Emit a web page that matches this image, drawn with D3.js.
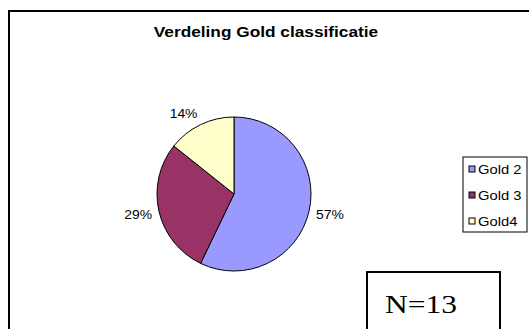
<!DOCTYPE html>
<html>
<head>
<meta charset="utf-8">
<script src="https://cdn.jsdelivr.net/npm/d3@7"></script>
<style>
  html, body { margin: 0; padding: 0; background: #fff; }
  svg { display: block; }
</style>
</head>
<body>
<div id="chart"></div>
<script>
// data
var categories = ["Gold 2", "Gold 3", "Gold4"];
var counts = [4, 2, 1];
var pctLabels = ["57%", "29%", "14%"];
var colours = ["#9999FF", "#993366", "#FFFFCC"];
var chartTitle = "Verdeling Gold classificatie";
var noteText = "N=13";

var iWidth = 529, iHeight = 329;
var sans = "'Liberation Sans', Arial, sans-serif";

var dSVG = d3.select("#chart")
    .append("svg")
    .attr("width", iWidth)
    .attr("height", iHeight);

// outer chart frame (runs off the right and bottom edge)
dSVG.append("rect")
    .attr("x", 9).attr("y", 11)
    .attr("width", 600).attr("height", 400)
    .attr("fill", "#fff")
    .attr("stroke", "#000")
    .attr("stroke-width", 2);

// the original text comes out a bit wider than Liberation Sans does
function widen(f) {
    return function(sel) {
        sel.each(function() {
            var w = this.getComputedTextLength();
            d3.select(this)
                .attr("textLength", w * f)
                .attr("lengthAdjust", "spacingAndGlyphs");
        });
    };
}

dSVG.append("text")
    .attr("x", 266).attr("y", 37)
    .attr("text-anchor", "middle")
    .style("font-family", sans)
    .style("font-weight", "bold")
    .style("font-size", "14.5px")
    .text(chartTitle)
    .call(widen(1.19));

var cx = 234, cy = 194, r = 77;

var pie = d3.pie().sort(null).value(function(d) { return d; });
var arcs = pie(counts);
var arc = d3.arc().innerRadius(0).outerRadius(r);

var colour = d3.scaleOrdinal().domain(categories).range(colours);

var dG = dSVG.append("g").attr("transform", "translate(" + cx + "," + cy + ")");

dG.selectAll("path").data(arcs).enter().append("path")
    .attr("d", arc)
    .style("fill", function(d, i) { return colour(categories[i]); })
    .style("stroke", "#000")
    .style("stroke-width", 1);

// outside data labels
var labelR = r + 7;
dG.selectAll("text.lbl").data(arcs).enter().append("text")
    .attr("class", "lbl")
    .attr("x", function(d) {
        var a = (d.startAngle + d.endAngle) / 2;
        var s = Math.sin(a);
        return labelR * s + (s > 0 ? 1 : -1) * 14;
    })
    .attr("y", function(d) {
        var a = (d.startAngle + d.endAngle) / 2;
        var c = -Math.cos(a);
        return labelR * c + 6 * c + 5;
    })
    .attr("text-anchor", "middle")
    .style("font-family", sans)
    .style("font-size", "13px")
    .text(function(d, i) { return pctLabels[i]; })
    .call(widen(1.07));

// legend
var lx = 463, ly = 157, lw = 64, lh = 75;
var dLeg = dSVG.append("g");
dLeg.append("rect")
    .attr("x", lx).attr("y", ly)
    .attr("width", lw).attr("height", lh)
    .attr("fill", "#fff").attr("stroke", "#000").attr("stroke-width", 1);

var legY = d3.scalePoint().domain(categories).range([ly + 12, ly + 64]);

var dItems = dLeg.selectAll("g.item").data(categories).enter().append("g")
    .attr("class", "item")
    .attr("transform", function(d) { return "translate(" + (lx + 6) + "," + legY(d) + ")"; });

dItems.append("rect")
    .attr("x", 0).attr("y", -3).attr("width", 6).attr("height", 6)
    .attr("fill", function(d) { return colour(d); })
    .attr("stroke", "#000").attr("stroke-width", 1);

dItems.append("text")
    .attr("x", 9).attr("y", 4.5)
    .style("font-family", sans)
    .style("font-size", "12.5px")
    .text(function(d) { return d; })
    .call(widen(1.18));

// N box
dSVG.append("rect")
    .attr("x", 367).attr("y", 272)
    .attr("width", 133).attr("height", 80)
    .attr("fill", "#fff").attr("stroke", "#000").attr("stroke-width", 2);

dSVG.append("text")
    .attr("x", 385).attr("y", 313)
    .style("font-family", "'Liberation Serif', 'Times New Roman', serif")
    .style("font-size", "25px")
    .text(noteText)
    .call(function(sel) {
        sel.attr("textLength", 72).attr("lengthAdjust", "spacingAndGlyphs");
    });
</script>
</body>
</html>
